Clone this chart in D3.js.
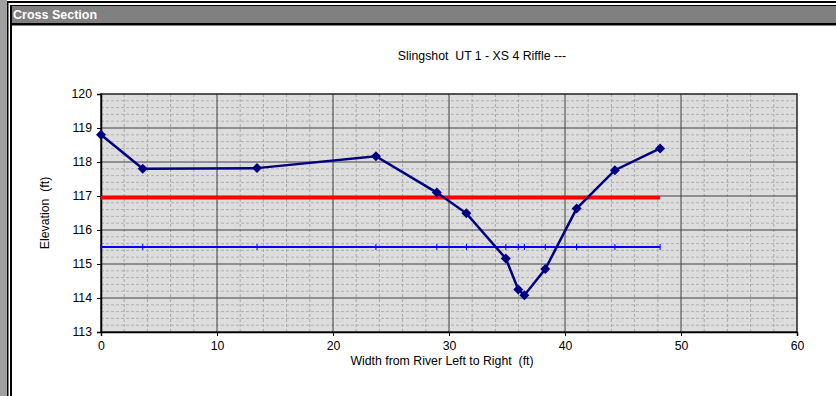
<!DOCTYPE html>
<html>
<head>
<meta charset="utf-8">
<script src="https://cdn.jsdelivr.net/npm/d3@7"></script>
<style>
  body { margin: 0; background: #fff; }
  svg { display: block; font-family: "Liberation Sans", Arial, sans-serif; }
</style>
</head>
<body>
<div id="chart"></div>
<script>
// ground survey points
const stationFt = [0, 3.6, 13.45, 23.7, 28.95, 31.5, 34.9, 35.97, 36.5, 38.3, 41.0, 44.3, 48.2];
const elevFt = [118.8, 117.8, 117.82, 118.17, 117.1, 116.49, 115.16, 114.25, 114.08, 114.85, 116.63, 117.76, 118.4];

// horizontal reference lines
const bankfullElev = 116.95;
const waterElev = 115.5;

const xTicks = [0, 10, 20, 30, 40, 50, 60];
const yTicks = [113, 114, 115, 116, 117, 118, 119, 120];

const chartTitle = "Slingshot  UT 1 - XS 4 Riffle ---";
const xTitle = "Width from River Left to Right  (ft)";
const yTitle = "Elevation  (ft)";

const width = 836, height = 396;
const fs = 12.3;

const svg = d3.select("#chart").append("svg")
  .attr("width", width)
  .attr("height", height);

// window frame
svg.append("rect").attr("x", 0).attr("y", 0).attr("width", 7).attr("height", height).attr("fill", "#a0a0a0");
svg.append("rect").attr("x", 7).attr("y", 1).attr("width", width - 7).attr("height", 2).attr("fill", "#000");
svg.append("rect").attr("x", 7).attr("y", 1).attr("width", 1.5).attr("height", height).attr("fill", "#000");
svg.append("rect").attr("x", 10).attr("y", 5).attr("width", width - 10).attr("height", 1.5).attr("fill", "#000");
svg.append("rect").attr("x", 10).attr("y", 5).attr("width", 2).attr("height", height).attr("fill", "#000");
svg.append("rect").attr("x", 12).attr("y", 6.5).attr("width", width - 12).attr("height", 16.5).attr("fill", "#808080");
svg.append("rect").attr("x", 12).attr("y", 23).attr("width", width - 12).attr("height", 2.5).attr("fill", "#000");
svg.append("text")
  .attr("x", 13).attr("y", 19)
  .attr("fill", "#fff")
  .attr("font-weight", "bold")
  .attr("font-size", 12.5)
  .text("Cross Section");

const x = d3.scaleLinear().domain([0, 60]).range([101, 797]);
const y = d3.scaleLinear().domain([113, 120]).range([332, 94]);

// plot area
svg.append("rect")
  .attr("x", x(0)).attr("y", y(120))
  .attr("width", x(60) - x(0)).attr("height", y(113) - y(120))
  .attr("fill", "#dddddd");

const grid = svg.append("g");
grid.selectAll(".vminor")
  .data(d3.range(0, 61, 2).filter(v => v % 10 !== 0))
  .join("line")
  .attr("x1", d => x(d)).attr("x2", d => x(d))
  .attr("y1", y(120)).attr("y2", y(113))
  .attr("stroke", "#a8a8a8").attr("stroke-width", 1)
  .attr("stroke-dasharray", "3,2");
grid.selectAll(".hminor")
  .data(d3.range(0, 35).map(i => 113 + i * 0.2).filter((v, i) => i % 5 !== 0))
  .join("line")
  .attr("x1", x(0)).attr("x2", x(60))
  .attr("y1", d => y(d)).attr("y2", d => y(d))
  .attr("stroke", "#b0b0b0").attr("stroke-width", 1)
  .attr("stroke-dasharray", "3,2");
grid.selectAll(".vmajor")
  .data(xTicks.slice(1, -1))
  .join("line")
  .attr("x1", d => x(d)).attr("x2", d => x(d))
  .attr("y1", y(120)).attr("y2", y(113))
  .attr("stroke", "#404040").attr("stroke-width", 1);
grid.selectAll(".hmajor")
  .data(yTicks.slice(1, -1))
  .join("line")
  .attr("x1", x(0)).attr("x2", x(60))
  .attr("y1", d => y(d)).attr("y2", d => y(d))
  .attr("stroke", "#404040").attr("stroke-width", 1);

// plot border
svg.append("rect")
  .attr("x", x(0)).attr("y", y(120))
  .attr("width", x(60) - x(0)).attr("height", y(113) - y(120))
  .attr("fill", "none").attr("stroke", "#222").attr("stroke-width", 1.5);

// axes
const yAxis = svg.append("g")
  .attr("transform", `translate(${x(0)},0)`)
  .call(d3.axisLeft(y).tickValues(yTicks).tickSize(4).tickPadding(5).tickFormat(d3.format("d")));
const xAxis = svg.append("g")
  .attr("transform", `translate(0,${y(113)})`)
  .call(d3.axisBottom(x).tickValues(xTicks).tickSize(4).tickPadding(5).tickFormat(d3.format("d")));
[xAxis, yAxis].forEach(a => {
  a.select(".domain").attr("stroke", "#000").attr("stroke-width", 1.5);
  a.selectAll(".tick line").attr("stroke", "#000");
  a.selectAll(".tick text").attr("font-size", fs).attr("fill", "#000")
    .attr("font-family", "'Liberation Sans', Arial, sans-serif");
});

// titles
svg.append("text")
  .attr("x", 482).attr("y", 60)
  .attr("text-anchor", "middle")
  .attr("font-size", fs)
  .attr("style", "white-space: pre")
  .text(chartTitle);
svg.append("text")
  .attr("x", 442).attr("y", 365)
  .attr("text-anchor", "middle")
  .attr("font-size", fs)
  .attr("style", "white-space: pre")
  .text(xTitle);
svg.append("text")
  .attr("transform", `translate(49,${(y(120) + y(113)) / 2}) rotate(-90)`)
  .attr("text-anchor", "middle")
  .attr("font-size", fs)
  .attr("style", "white-space: pre")
  .text(yTitle);

const xEnd = d3.max(stationFt);

// bankfull (red)
svg.append("line")
  .attr("x1", x(0)).attr("x2", x(xEnd))
  .attr("y1", y(bankfullElev)).attr("y2", y(bankfullElev))
  .attr("stroke", "#ff0000").attr("stroke-width", 3.5);

// water surface (blue) with dash markers at each station
svg.append("line")
  .attr("x1", x(0)).attr("x2", x(xEnd))
  .attr("y1", y(waterElev)).attr("y2", y(waterElev))
  .attr("stroke", "#0000ff").attr("stroke-width", 2);
svg.selectAll(".wmark")
  .data(stationFt)
  .join("line")
  .attr("x1", d => x(d)).attr("x2", d => x(d))
  .attr("y1", y(waterElev) - 3).attr("y2", y(waterElev) + 3)
  .attr("stroke", "#0000ff").attr("stroke-width", 1);

// ground line
const pts = stationFt.map((s, i) => [s, elevFt[i]]);
svg.append("path")
  .datum(pts)
  .attr("fill", "none")
  .attr("stroke", "#000080")
  .attr("stroke-width", 2.5)
  .attr("d", d3.line().x(d => x(d[0])).y(d => y(d[1])));
svg.selectAll(".gmark")
  .data(pts)
  .join("path")
  .attr("transform", d => `translate(${x(d[0])},${y(d[1])}) rotate(45)`)
  .attr("d", d3.symbol().type(d3.symbolSquare).size(50))
  .attr("fill", "#000080");
</script>
</body>
</html>
